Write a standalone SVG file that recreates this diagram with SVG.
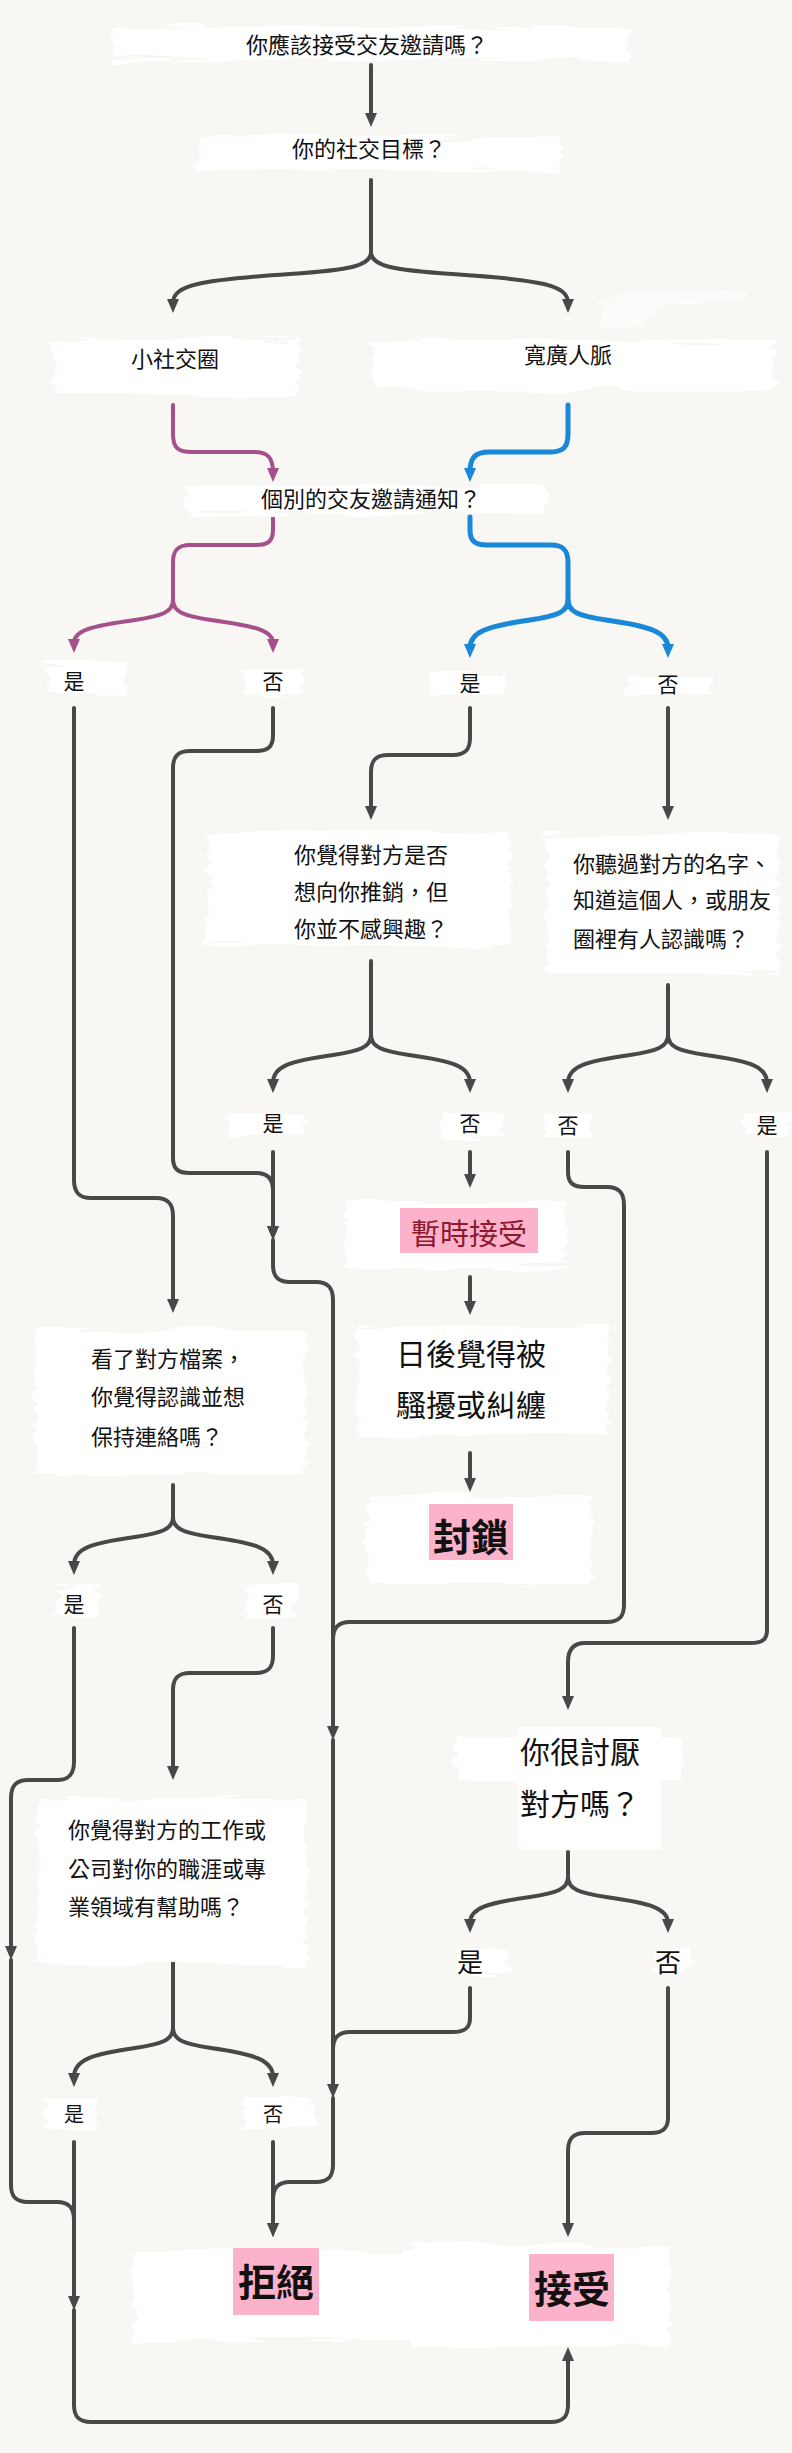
<svg xmlns="http://www.w3.org/2000/svg" width="792" height="2453" viewBox="0 0 792 2453">
<style>
.t{font-family:"Noto Sans CJK TC","Noto Sans CJK SC",sans-serif;fill:#111;font-size:22px}
.l{font-family:"Noto Sans CJK TC","Noto Sans CJK SC",sans-serif;fill:#111;font-size:21px;text-anchor:middle}
.m{text-anchor:middle}
.big{font-size:38px;font-weight:700;text-anchor:middle}
.c{fill:none;stroke:#484848;stroke-width:4;stroke-linecap:round}
.p{fill:none;stroke:#a5508a;stroke-width:4;stroke-linecap:round}
.b{fill:none;stroke:#1a88d8;stroke-width:5;stroke-linecap:round}
.blob{fill:#fff}
.pink{fill:#fdb2cb}
</style>
<defs>
<filter id="rough" x="-10%" y="-40%" width="120%" height="180%">
<feTurbulence type="fractalNoise" baseFrequency="0.012 0.15" numOctaves="2" seed="4" result="n"/>
<feDisplacementMap in="SourceGraphic" in2="n" scale="16" xChannelSelector="R" yChannelSelector="G"/>
</filter>
<marker id="ag" viewBox="0 0 14 12" refX="4" refY="6" markerWidth="14" markerHeight="12" markerUnits="userSpaceOnUse" orient="auto"><path d="M0,0 L14,6 L0,12 z" fill="#484848"/></marker>
<marker id="ap" viewBox="0 0 14 12" refX="4" refY="6" markerWidth="14" markerHeight="12" markerUnits="userSpaceOnUse" orient="auto"><path d="M0,0 L14,6 L0,12 z" fill="#a5508a"/></marker>
<marker id="ab" viewBox="0 0 14 12" refX="4" refY="6" markerWidth="14" markerHeight="12" markerUnits="userSpaceOnUse" orient="auto"><path d="M0,0 L14,6 L0,12 z" fill="#1a88d8"/></marker>
</defs>
<rect x="0" y="0" width="792" height="2453" fill="#f8f7f3"/>

<g id="connectors">
<path class="c" marker-end="url(#ag)" d="M371,65 V117"/>
<path class="c" marker-end="url(#ag)" d="M371,180 V252 C371,266 350,270 290,274 C200,280 173,285 173,303"/>
<path class="c" marker-end="url(#ag)" d="M371,252 C371,266 392,270 452,274 C542,280 568,285 568,303"/>
<path class="p" marker-end="url(#ap)" d="M173,405 V434 C173,448 178,452 192,452 H254 C268,452 273,458 273,472"/>
<path class="b" marker-end="url(#ab)" d="M568,405 V434 C568,448 563,452 549,452 H489 C475,452 470,458 470,472"/>
<path class="p" marker-end="url(#ap)" d="M273,517 V530 C273,541 268,545 256,545 H190 C178,545 173,550 173,562 V600 C173,612 162,616 135,620 C92,626 74,630 74,643"/>
<path class="p" marker-end="url(#ap)" d="M173,600 C173,612 184,616 211,620 C254,626 273,630 273,643"/>
<path class="b" marker-end="url(#ab)" d="M470,517 V530 C470,541 475,545 487,545 H551 C563,545 568,550 568,562 V600 C568,612 557,616 530,620 C487,626 470,632 470,648"/>
<path class="b" marker-end="url(#ab)" d="M568,600 C568,612 579,616 606,620 C649,626 668,632 668,648"/>
<path class="c" marker-end="url(#ag)" d="M74,708 V1180 C74,1192 79,1198 91,1198 H156 C168,1198 173,1204 173,1216 V1303"/>
<path class="c" marker-end="url(#ag)" d="M273,708 V735 C273,747 268,751 256,751 H190 C178,751 173,756 173,768 V1158 C173,1169 178,1173 190,1173 H256 C268,1173 273,1179 273,1190 V1230"/>
<path class="c" marker-end="url(#ag)" d="M470,708 V738 C470,750 465,755 453,755 H388 C376,755 371,760 371,772 V810"/>
<path class="c" marker-end="url(#ag)" d="M668,708 V810"/>
<path class="c" marker-end="url(#ag)" d="M371,961 V1035 C371,1047 360,1051 333,1055 C290,1061 273,1066 273,1083"/>
<path class="c" marker-end="url(#ag)" d="M371,1035 C371,1047 382,1051 409,1055 C452,1061 470,1066 470,1083"/>
<path class="c" marker-end="url(#ag)" d="M668,985 V1035 C668,1047 657,1051 630,1055 C587,1061 568,1066 568,1083"/>
<path class="c" marker-end="url(#ag)" d="M668,1035 C668,1047 679,1051 706,1055 C749,1061 767,1066 767,1083"/>
<path class="c" marker-end="url(#ag)" d="M273,1152 V1230"/>
<path class="c" marker-end="url(#ag)" d="M273,1240 V1265 C273,1277 278,1282 290,1282 H316 C328,1282 333,1288 333,1300 V1730"/>
<path class="c" marker-end="url(#ag)" d="M333,1740 V2088"/>
<path class="c" marker-end="url(#ag)" d="M333,2098 V2165 C333,2177 328,2182 316,2182 H290 C278,2182 273,2188 273,2200 V2227"/>
<path class="c" marker-end="url(#ag)" d="M470,1152 V1178"/>
<path class="c" marker-end="url(#ag)" d="M470,1277 V1305"/>
<path class="c" marker-end="url(#ag)" d="M470,1453 V1482"/>
<path class="c" d="M568,1152 V1172 C568,1183 573,1187 585,1187 H607 C619,1187 624,1193 624,1205 V1605 C624,1617 619,1622 607,1622 H350 C338,1622 333,1628 333,1640"/>
<path class="c" marker-end="url(#ag)" d="M767,1152 V1630 C767,1640 762,1643 750,1643 H585 C573,1643 568,1650 568,1662 V1700"/>
<path class="c" marker-end="url(#ag)" d="M173,1485 V1517 C173,1529 162,1533 135,1537 C92,1543 74,1548 74,1565"/>
<path class="c" marker-end="url(#ag)" d="M173,1517 C173,1529 184,1533 211,1537 C254,1543 273,1548 273,1565"/>
<path class="c" marker-end="url(#ag)" d="M74,1628 V1762 C74,1774 69,1780 57,1780 H28 C16,1780 11,1786 11,1798 V1950"/>
<path class="c" d="M11,1960 V2185 C11,2197 16,2202 28,2202 H57 C69,2202 74,2208 74,2220"/>
<path class="c" marker-end="url(#ag)" d="M273,1628 V1656 C273,1668 268,1673 256,1673 H190 C178,1673 173,1678 173,1690 V1770"/>
<path class="c" marker-end="url(#ag)" d="M173,1955 V2028 C173,2040 162,2044 135,2048 C92,2054 74,2060 74,2077"/>
<path class="c" marker-end="url(#ag)" d="M173,2028 C173,2040 184,2044 211,2048 C254,2054 273,2060 273,2077"/>
<path class="c" marker-end="url(#ag)" d="M74,2142 V2300"/>
<path class="c" marker-end="url(#ag)" d="M74,2310 V2405 C74,2417 79,2422 91,2422 H551 C563,2422 568,2417 568,2405 V2357"/>
<path class="c" marker-end="url(#ag)" d="M273,2142 V2227"/>
<path class="c" marker-end="url(#ag)" d="M568,1852 V1877 C568,1889 557,1893 530,1897 C487,1903 470,1908 470,1923"/>
<path class="c" marker-end="url(#ag)" d="M568,1877 C568,1889 579,1893 606,1897 C649,1903 668,1908 668,1923"/>
<path class="c" d="M470,1988 V2018 C470,2028 465,2032 453,2032 H350 C338,2032 333,2038 333,2050"/>
<path class="c" marker-end="url(#ag)" d="M668,1988 V2118 C668,2128 663,2133 651,2133 H585 C573,2133 568,2139 568,2151 V2227"/>
</g>

<g id="n-title">
<rect class="blob" filter="url(#rough)" x="112" y="27" width="516" height="33"/>
<text class="t m" x="367" y="53">你應該接受交友邀請嗎？</text>
</g>
<g id="n-goal">
<rect class="blob" filter="url(#rough)" x="197" y="137" width="363" height="33"/>
<text class="t m" x="369" y="157">你的社交目標？</text>
</g>
<g id="n-small">
<rect class="blob" filter="url(#rough)" x="54" y="340" width="246" height="54"/>
<text class="t m" x="175" y="367">小社交圈</text>
</g>
<g id="n-wide">
<path d="M600,300 L660,290 L748,292 L745,300 L665,303 L640,325 L600,333 Z" fill="#fff" opacity="0.6" filter="url(#rough)"/>
<rect class="blob" filter="url(#rough)" x="372" y="340" width="402" height="50"/>
<text class="t m" x="568" y="363">寬廣人脈</text>
</g>
<g id="n-notify">
<rect class="blob" filter="url(#rough)" x="187" y="485" width="360" height="29"/>
<text class="t m" x="371" y="507">個別的交友邀請通知？</text>
</g>
<g id="l1">
<rect class="blob" filter="url(#rough)" x="47" y="663" width="80" height="30"/>
<text class="l" x="74" y="689">是</text>
<rect class="blob" filter="url(#rough)" x="244" y="668" width="60" height="26"/>
<text class="l" x="273" y="689">否</text>
<rect class="blob" filter="url(#rough)" x="431" y="673" width="75" height="23"/>
<text class="l" x="470" y="691">是</text>
<rect class="blob" filter="url(#rough)" x="628" y="676" width="82" height="20"/>
<text class="l" x="668" y="692">否</text>
</g>
<g id="n-sales">
<rect class="blob" filter="url(#rough)" x="208" y="831" width="302" height="114"/>
<text class="t" x="294" y="863">你覺得對方是否</text>
<text class="t" x="294" y="900">想向你推銷，但</text>
<text class="t" x="294" y="937">你並不感興趣？</text>
</g>
<g id="n-heard">
<rect class="blob" filter="url(#rough)" x="546" y="835" width="232" height="138"/>
<text class="t" x="573" y="872">你聽過對方的名字、</text>
<text class="t" x="573" y="908">知道這個人，或朋友</text>
<text class="t" x="573" y="947">圈裡有人認識嗎？</text>
</g>
<g id="l2">
<rect class="blob" filter="url(#rough)" x="228" y="1113" width="78" height="23"/>
<text class="l" x="273" y="1131">是</text>
<rect class="blob" filter="url(#rough)" x="440" y="1113" width="63" height="25"/>
<text class="l" x="470" y="1131">否</text>
<rect class="blob" filter="url(#rough)" x="545" y="1114" width="46" height="23"/>
<text class="l" x="568" y="1133">否</text>
<rect class="blob" filter="url(#rough)" x="744" y="1114" width="46" height="23"/>
<text class="l" x="767" y="1133">是</text>
</g>
<g id="n-temp">
<rect class="blob" filter="url(#rough)" x="346" y="1202" width="220" height="66"/>
<rect class="pink" x="400" y="1208" width="138" height="45"/>
<text class="t m" x="469" y="1245" style="font-size:29px;fill:#8b1a2e">暫時接受</text>
</g>
<g id="n-harass">
<rect class="blob" filter="url(#rough)" x="357" y="1326" width="252" height="110"/>
<text class="t" x="396" y="1365" style="font-size:30px">日後覺得被</text>
<text class="t" x="396" y="1416" style="font-size:30px">騷擾或糾纏</text>
</g>
<g id="n-block">
<rect class="blob" filter="url(#rough)" x="367" y="1496" width="224" height="89"/>
<rect class="pink" x="429" y="1504" width="84" height="56"/>
<text class="t big" x="471" y="1551">封鎖</text>
</g>
<g id="n-profile">
<rect class="blob" filter="url(#rough)" x="36" y="1330" width="270" height="145"/>
<text class="t" x="91" y="1367">看了對方檔案，</text>
<text class="t" x="91" y="1405">你覺得認識並想</text>
<text class="t" x="91" y="1445">保持連絡嗎？</text>
</g>
<g id="l3">
<rect class="blob" filter="url(#rough)" x="57" y="1585" width="42" height="33"/>
<text class="l" x="74" y="1612">是</text>
<rect class="blob" filter="url(#rough)" x="247" y="1585" width="49" height="33"/>
<text class="l" x="273" y="1612">否</text>
</g>
<g id="n-work">
<rect class="blob" filter="url(#rough)" x="38" y="1798" width="268" height="166"/>
<text class="t" x="68" y="1838">你覺得對方的工作或</text>
<text class="t" x="68" y="1877">公司對你的職涯或專</text>
<text class="t" x="68" y="1915">業領域有幫助嗎？</text>
</g>
<g id="n-hate">
<rect class="blob" filter="url(#rough)" x="455" y="1736" width="228" height="44"/>
<rect class="blob" x="518" y="1727" width="143" height="123"/>
<text class="t" x="520" y="1763" style="font-size:30px">你很討厭</text>
<text class="t" x="520" y="1815" style="font-size:30px">對方嗎？</text>
</g>
<g id="l4">
<rect class="blob" filter="url(#rough)" x="457" y="1949" width="51" height="24"/>
<text class="l" x="470" y="1972" style="font-size:26px">是</text>
<rect class="blob" filter="url(#rough)" x="654" y="1949" width="36" height="24"/>
<text class="l" x="668" y="1972" style="font-size:26px">否</text>
</g>
<g id="l5">
<rect class="blob" filter="url(#rough)" x="45" y="2099" width="51" height="29"/>
<text class="l" x="74" y="2122" style="font-size:20px">是</text>
<rect class="blob" filter="url(#rough)" x="244" y="2097" width="70" height="31"/>
<text class="l" x="273" y="2122" style="font-size:20px">否</text>
</g>
<g id="n-reject">
<rect class="blob" filter="url(#rough)" x="134" y="2250" width="285" height="90"/>
<rect class="pink" x="233" y="2248" width="86" height="67"/>
<text class="t big" x="276" y="2296">拒絕</text>
</g>
<g id="n-accept">
<rect class="blob" filter="url(#rough)" x="412" y="2245" width="258" height="102"/>
<rect class="pink" x="529" y="2254" width="85" height="67"/>
<text class="t big" x="572" y="2303">接受</text>
</g>
</svg>
